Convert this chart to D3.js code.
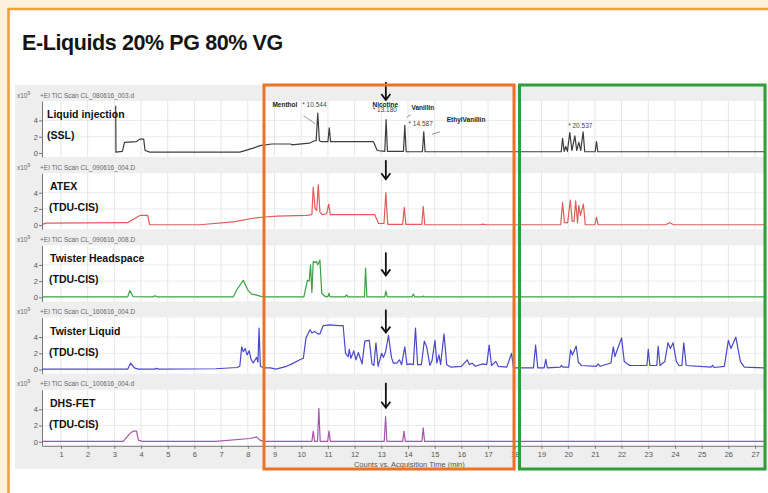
<!DOCTYPE html>
<html><head><meta charset="utf-8">
<script src="https://cdn.jsdelivr.net/npm/d3@7"></script>
<style>
html,body{margin:0;padding:0;background:#fdf0dc;}
svg{display:block;font-family:"Liberation Sans",Arial,sans-serif;}
</style></head>
<body><svg id="c" width="768" height="493"></svg>
<script>
// ---------- DATA ----------
const title = "E-Liquids 20% PG 80% VG";
const sampleNames = ["Liquid injection","ATEX","Twister Headspace","Twister Liquid","DHS-FET"];
const sampleMethods = ["(SSL)","(TDU-CIS)","(TDU-CIS)","(TDU-CIS)","(TDU-CIS)"];
const scanHeaders = ["+EI TIC Scan CL_080616_003.d","+EI TIC Scan CL_090616_004.D","+EI TIC Scan CL_090616_008.D","+EI TIC Scan CL_160616_004.D","+EI TIC Scan CL_100616_004.d"];
const traceColors = ["#3c3c3c","#e25a5a","#3f9f45","#4a48c8","#a456a8"];
const xTicks = [1,2,3,4,5,6,7,8,9,10,11,12,13,14,15,16,17,18,19,20,21,22,23,24,25,26,27];
const yTicks = [0,2,4];
const xAxisTitle = "Counts vs. Acquisition Time (min)";

const traceSSL = [[3.05,5.8],[3.06,0.1],[3.3,0.2],[3.38,1.3],[3.83,1.4],[3.95,1.7],[4.1,1.7],[4.15,0.3],[4.33,0.1],[7.7,0.1],[8.2,0.6],[8.45,0.9],[8.9,1.1],[9.2,1.1],[9.6,1.1],[9.65,1.0],[10.3,1.2],[10.5,1.5],[10.56,1.5],[10.62,4.9],[10.68,1.5],[10.75,1.4],[11.0,1.4],[11.05,3.1],[11.1,1.4],[12.7,1.4],[12.85,0.3],[13.13,0.2],[13.18,4.1],[13.23,0.2],[13.83,0.2],[13.88,3.4],[13.93,0.15],[14.54,0.15],[14.59,2.6],[14.64,0.15],[19.74,0.15],[19.79,1.8],[19.85,0.2],[19.91,0.8],[19.97,0.2],[20.06,2.5],[20.14,0.3],[20.25,2.1],[20.32,0.3],[20.4,1.3],[20.47,0.3],[20.56,2.6],[20.62,0.15],[21.01,0.15],[21.06,1.4],[21.11,0.15],[27.4,0.15]];
const traceATEX = [[0.3,0.1],[0.45,0.25],[3.5,0.3],[3.6,0.5],[3.75,0.8],[3.96,1.2],[4.25,1.2],[4.32,0.05],[6.2,0.05],[7.45,0.4],[8.2,0.85],[8.6,1.0],[9.1,1.1],[10.2,1.2],[10.4,1.3],[10.45,4.7],[10.52,2.0],[10.58,1.8],[10.64,5.0],[10.7,1.6],[10.78,1.3],[10.95,1.4],[11.03,2.6],[11.09,1.3],[12.75,1.3],[12.9,0.2],[13.1,0.2],[13.17,4.0],[13.24,0.1],[13.8,0.1],[13.86,2.2],[13.92,0.1],[14.52,0.1],[14.57,2.3],[14.63,0.05],[16.7,0.05],[16.8,0.12],[16.9,0.05],[19.72,0.05],[19.79,2.8],[19.86,0.3],[19.98,0.3],[20.08,3.1],[20.15,0.5],[20.22,0.5],[20.28,3.0],[20.35,0.3],[20.4,2.4],[20.46,1.2],[20.57,2.6],[20.64,0.05],[21.0,0.05],[21.06,1.0],[21.12,0.05],[23.65,0.05],[23.8,0.3],[23.95,0.05],[27.4,0.05]];
const traceHeadspace = [[0.3,0.05],[3.5,0.05],[3.58,0.85],[3.7,0.1],[4.45,0.05],[4.52,0.2],[4.6,0.05],[7.45,0.05],[7.6,1.0],[7.83,2.1],[8.0,0.9],[8.14,0.4],[8.3,0.3],[8.45,0.15],[8.6,0.05],[10.1,0.05],[10.23,2.1],[10.3,2.0],[10.35,4.0],[10.4,0.6],[10.45,4.4],[10.52,4.3],[10.57,4.4],[10.62,4.0],[10.7,4.6],[10.77,0.5],[10.9,0.1],[11.0,0.1],[11.04,0.5],[11.08,0.05],[11.65,0.05],[11.7,0.3],[11.75,0.05],[12.37,0.05],[12.41,3.6],[12.46,0.05],[13.13,0.05],[13.17,0.8],[13.22,0.05],[14.15,0.05],[14.2,0.4],[14.25,0.05],[14.53,0.05],[14.57,0.15],[14.62,0.05],[27.4,0.05]];
const traceLiquid = [[0.3,0.05],[3.5,0.05],[3.61,0.8],[3.75,0.2],[3.9,0.05],[4.5,0.05],[4.58,0.15],[4.66,0.05],[6.8,0.1],[7.6,0.25],[7.7,0.4],[7.77,2.8],[7.83,2.2],[7.9,2.6],[7.97,1.8],[8.05,2.3],[8.12,1.3],[8.2,0.8],[8.33,1.5],[8.38,0.9],[8.42,5.1],[8.47,0.4],[8.6,0.2],[8.85,0.2],[9.05,0.05],[9.45,0.4],[9.65,0.7],[9.95,1.2],[10.08,1.4],[10.18,3.9],[10.33,4.9],[10.4,4.5],[10.5,4.7],[10.62,4.4],[10.7,4.4],[10.82,5.4],[11.1,5.5],[11.4,5.4],[11.57,5.4],[11.66,2.0],[11.76,1.6],[11.8,2.5],[11.86,1.4],[11.97,2.3],[12.05,1.2],[12.14,2.1],[12.28,0.7],[12.38,3.5],[12.55,3.6],[12.65,0.7],[12.72,0.5],[12.8,3.3],[12.88,0.4],[13.01,2.0],[13.08,1.5],[13.16,2.2],[13.27,4.2],[13.38,1.5],[13.45,0.8],[13.58,0.8],[13.68,1.2],[13.76,0.6],[13.88,2.8],[13.96,0.6],[14.08,0.7],[14.2,0.6],[14.28,5.1],[14.36,0.6],[14.5,0.6],[14.61,3.5],[14.7,2.8],[14.82,0.5],[14.9,1.1],[15.01,3.6],[15.08,0.8],[15.16,1.8],[15.22,0.6],[15.35,4.4],[15.45,0.6],[15.6,0.3],[16.0,0.4],[16.22,1.2],[16.3,0.6],[16.4,0.8],[16.52,0.4],[16.8,0.7],[16.95,0.6],[17.04,3.0],[17.13,0.5],[17.29,1.0],[17.38,0.4],[17.7,0.3],[17.88,2.0],[17.95,0.2],[18.7,0.2],[18.78,3.0],[18.86,0.2],[19.1,0.2],[19.16,1.25],[19.22,0.2],[19.7,0.3],[19.75,0.5],[19.8,0.3],[20.02,0.3],[20.09,2.4],[20.16,1.8],[20.3,2.9],[20.38,0.9],[20.5,0.5],[21.05,0.4],[21.12,0.7],[21.2,0.4],[21.6,0.8],[21.69,2.8],[21.75,1.6],[22.0,3.9],[22.1,1.0],[22.3,0.5],[22.95,0.5],[23.0,2.5],[23.06,0.5],[23.32,0.5],[23.37,2.9],[23.44,0.5],[23.62,1.0],[23.74,3.3],[23.83,2.6],[23.93,3.3],[24.05,1.0],[24.15,0.5],[24.26,0.5],[24.33,3.3],[24.42,0.5],[25.35,0.3],[25.41,0.5],[25.47,0.25],[25.85,0.4],[26.0,3.6],[26.1,2.6],[26.28,4.0],[26.45,1.0],[26.6,0.3],[27.4,0.2]];
const traceDHS = [[0.3,0.05],[3.33,0.05],[3.58,1.0],[3.7,1.3],[3.83,1.3],[3.9,0.2],[4.05,0.05],[6.8,0.05],[8.08,0.4],[8.33,0.6],[8.45,0.2],[8.6,0.05],[10.4,0.05],[10.45,1.3],[10.5,0.05],[10.61,0.05],[10.66,4.1],[10.71,0.05],[10.99,0.05],[11.04,1.3],[11.09,0.05],[13.11,0.05],[13.16,3.1],[13.21,0.05],[13.8,0.05],[13.85,1.3],[13.9,0.05],[14.52,0.05],[14.57,1.7],[14.62,0.05],[27.4,0.05]];
const traces = [traceSSL, traceATEX, traceHeadspace, traceLiquid, traceDHS];

// peak annotations in first panel
const annoNames = ["Menthol","Nicotine","Vanillin","EthylVanillin"];
const annoNameTimes = [8.92, 12.67, 14.13, 15.45];
const annoNameLevels = [5.7, 5.7, 5.3, 3.8];
const rtLabels = ["* 10.544","* 13.180","* 14.587","* 20.537"];
const rtTimes = [10.04, 12.68, 14.02, 20.0];
const rtLevels = [5.7, 5.0, 3.3, 3.1];
const arrowTime = 13.17;

// ---------- LAYOUT ----------
const svg = d3.select("#c");
const W = 768, H = 493;
const plotL = 42, plotR = 766;
const x = d3.scaleLinear().domain([0.29, 27.41]).range([plotL, plotR]);
const baseY = [153, 225.2, 297.4, 369.6, 441.8];
const arrowTop = [-71, -65, -45, -60, -59];
const arrowBot = [-53, -46, -22, -37, -34];

// outer page
svg.append("rect").attr("x",0).attr("y",0).attr("width",W).attr("height",H).attr("fill","#fdf0dc");
svg.append("rect").attr("x",8.5).attr("y",9).attr("width",W+20).attr("height",H+20)
  .attr("fill","#ffffff").attr("stroke","#f0a03a").attr("stroke-width",2.5);

// title
svg.append("text").attr("x",22).attr("y",50).text(title)
  .attr("font-size",21.5).attr("font-weight","bold").attr("fill","#151515").attr("letter-spacing",-0.4);

// grey chart background
svg.append("rect").attr("x",15).attr("y",85).attr("width",752).attr("height",384).attr("fill","#eeeeee");

baseY.forEach((y0,i)=>{
  const y = d3.scaleLinear().domain([-0.5,6.4]).range([y0+4, y0-52]);
  const g = svg.append("g");
  g.append("rect").attr("x",plotL).attr("y",y(6.4)).attr("width",plotR-plotL).attr("height",y(-0.5)-y(6.4)).attr("fill","#ffffff");
  g.selectAll("line.vg").data(xTicks).join("line")
    .attr("x1",d=>x(d)).attr("x2",d=>x(d)).attr("y1",y(6.4)).attr("y2",y(-0.5))
    .attr("stroke","#e0e0e0").attr("stroke-width",0.8);
  g.selectAll("line.hg").data([2,4]).join("line")
    .attr("x1",plotL).attr("x2",plotR).attr("y1",d=>y(d)).attr("y2",d=>y(d))
    .attr("stroke","#e6e6e6").attr("stroke-width",0.8);
  const ya = g.append("g").attr("transform",`translate(${plotL},0)`)
    .call(d3.axisLeft(y).tickValues(yTicks).tickSize(3).tickSizeOuter(0).tickFormat(d3.format("d")));
  ya.select(".domain").attr("stroke","#777");
  ya.selectAll(".tick line").attr("stroke","#777");
  ya.selectAll(".tick text").attr("font-size",7.5).attr("fill","#555").attr("x",-4)
    .attr("font-family","Liberation Sans, Arial, sans-serif");
  const hy = y0 - 58;
  const xt = g.append("text").attr("x",17).attr("y",hy+2.5).attr("font-size",6.5).attr("fill","#666");
  xt.append("tspan").text("x10");
  xt.append("tspan").text("9").attr("dy",-3).attr("font-size",5);
  g.append("text").attr("x",40).attr("y",hy+2.5).attr("font-size",6.5).attr("fill","#666").text(scanHeaders[i]);
  const line = d3.line().x(d=>x(d[0])).y(d=>y(d[1]));
  g.append("path").datum(traces[i]).attr("d",line).attr("fill","none")
    .attr("stroke",traceColors[i]).attr("stroke-width",1.2).attr("stroke-linejoin","round");
  g.append("text").attr("x",i===0?47:50).attr("y",y0-35).text(sampleNames[i])
    .attr("font-size",10.5).attr("font-weight","bold").attr("fill","#111");
  g.append("text").attr("x",i===0?47:49).attr("y",y0-14).text(sampleMethods[i])
    .attr("font-size",10.5).attr("font-weight","bold").attr("fill","#111");
  const ax = x(arrowTime);
  const at = y0 + arrowTop[i], ab = y0 + arrowBot[i];
  g.append("line").attr("x1",ax).attr("x2",ax).attr("y1",at).attr("y2",ab-1).attr("stroke","#111").attr("stroke-width",1.8);
  g.append("path").attr("d",`M${ax-4.5},${ab-6} L${ax},${ab} L${ax+4.5},${ab-6}`).attr("fill","none").attr("stroke","#111").attr("stroke-width",1.8);

  if(i===0){
    annoNames.forEach((t,k)=>{
      g.append("text").attr("x",x(annoNameTimes[k])).attr("y",y(annoNameLevels[k])).text(t)
        .attr("font-size",6.5).attr("font-weight","bold").attr("fill","#222");
    });
    rtLabels.forEach((t,k)=>{
      g.append("text").attr("x",x(rtTimes[k])).attr("y",y(rtLevels[k])).text(t)
        .attr("font-size",6.5).attr("fill","#444");
    });
    const leaders = [[10.09,4.6,10.52,3.6],[13.95,4.4,14.1,4.7],[14.9,2.3,15.2,2.6]];
    leaders.forEach(l=>{
      g.append("line").attr("x1",x(l[0])).attr("y1",y(l[1])).attr("x2",x(l[2])).attr("y2",y(l[3]))
        .attr("stroke","#666").attr("stroke-width",0.7);
    });
  }
  if(i===4){
    const xa = g.append("g").attr("transform",`translate(0,${y(-0.5)})`)
      .call(d3.axisBottom(x).tickValues(xTicks).tickSize(3).tickSizeOuter(0).tickFormat(d3.format("d")));
    xa.select(".domain").attr("stroke","#777");
    xa.selectAll(".tick line").attr("stroke","#777");
    xa.selectAll(".tick text").attr("font-size",7.5).attr("fill","#555")
      .attr("font-family","Liberation Sans, Arial, sans-serif");
    g.append("text").attr("x",x(14.05)).attr("y",y(-0.5)+21).attr("text-anchor","middle")
      .attr("font-size",7.5).attr("fill","#555").text(xAxisTitle);
  }
});

// highlight boxes
svg.append("rect").attr("x",264).attr("y",85).attr("width",250).attr("height",384)
  .attr("fill","none").attr("stroke","#e8742a").attr("stroke-width",3);
svg.append("rect").attr("x",519.5).attr("y",85).attr("width",245.5).attr("height",384)
  .attr("fill","none").attr("stroke","#2f9e3a").attr("stroke-width",3);
</script></body></html>
